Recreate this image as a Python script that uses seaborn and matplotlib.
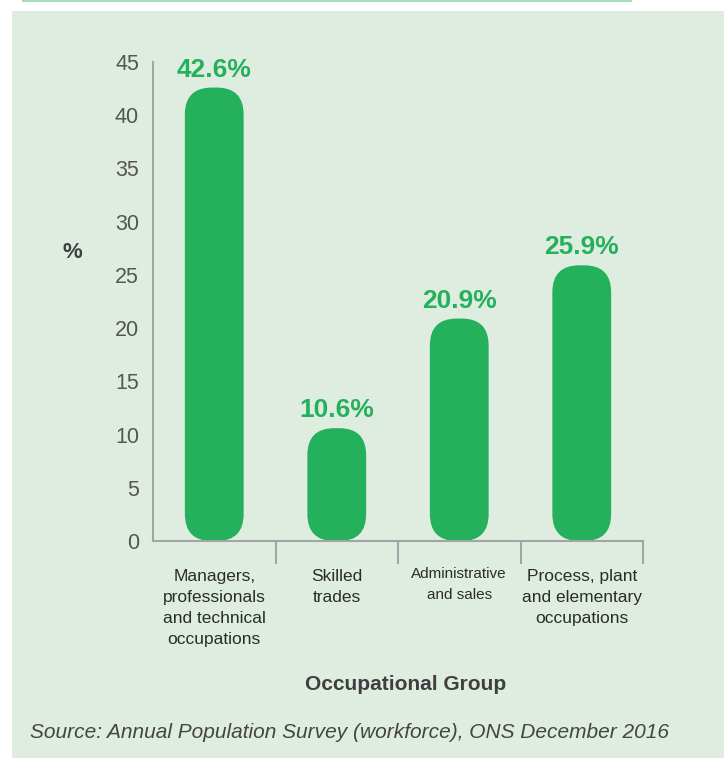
import matplotlib
matplotlib.use("Agg")
import matplotlib.pyplot as plt
import matplotlib.patches as mpatches
import seaborn as sns
import pandas as pd

# Data
categories = [
    "Managers,\nprofessionals\nand technical\noccupations",
    "Skilled\ntrades",
    "Administrative\nand sales",
    "Process, plant\nand elementary\noccupations",
]
shares = [42.6, 10.6, 20.9, 25.9]
value_labels = ["42.6%", "10.6%", "20.9%", "25.9%"]
yticks = [0, 5, 10, 15, 20, 25, 30, 35, 40, 45]

BAR = "#25b05b"
PANEL = "#dfede0"
AXIS = "#a2a5a8"
TEXT = "#3f3f3f"
FONT = "Liberation Sans"

sns.set_theme(style="white")
plt.rcParams["font.family"] = [FONT, "DejaVu Sans"]

W, H = 724, 758
fig = plt.figure(figsize=(W / 100, H / 100), dpi=100, facecolor="white")

# light green panel and thin rule above it
fig.patches.append(mpatches.Rectangle((12 / W, 0), 1 - 12 / W, 1 - 11 / H,
                                      transform=fig.transFigure, facecolor=PANEL,
                                      edgecolor="none", zorder=-10))
fig.patches.append(mpatches.Rectangle((22 / W, 1 - 2 / H), (632 - 22) / W, 2 / H,
                                      transform=fig.transFigure, facecolor="#a6ddb8",
                                      edgecolor="none", zorder=-10))

ax_l, ax_r, ax_t, ax_b = 153, 643, 62, 541
ax = fig.add_axes([ax_l / W, 1 - ax_b / H, (ax_r - ax_l) / W, (ax_b - ax_t) / H])
ax.set_zorder(1)
ax.set_facecolor("none")

df = pd.DataFrame({"group": categories, "share": shares})
sns.barplot(data=df, x="group", y="share", color=BAR, width=0.48,
            saturation=1, ax=ax, zorder=2)

ax.set_xlim(-0.5, 3.5)
ax.set_ylim(0, 45)

# swap the plain bars for rounded capsules of the same geometry
px_x = 4.0 / (ax_r - ax_l)
px_y = 45.0 / (ax_b - ax_t)
radius_px = 27
for p in list(ax.patches):
    x, y = p.get_x(), p.get_y()
    w, h = p.get_width(), p.get_height()
    p.remove()
    rb = mpatches.FancyBboxPatch(
        (x, y), w, h,
        boxstyle=f"round,pad=0,rounding_size={radius_px * px_x}",
        mutation_aspect=px_y / px_x,
        facecolor=BAR, edgecolor="none", zorder=2)
    ax.add_patch(rb)

# value labels above bars
for i, (v, lab) in enumerate(zip(shares, value_labels)):
    ax.annotate(lab, (i, v), xytext=(0, 11), textcoords="offset pixels",
                ha="center", va="baseline", fontsize=19, fontweight="bold",
                color=BAR)

# spines and ticks
for s in ["top", "right"]:
    ax.spines[s].set_visible(False)
for s in ["left", "bottom"]:
    ax.spines[s].set_color(AXIS)
    ax.spines[s].set_linewidth(1.5)

ax.set_yticks(yticks)
ax.set_yticklabels([str(t) for t in yticks])
ax.tick_params(axis="y", length=0, pad=10, labelsize=15.5, labelcolor="#555555")

ax.set_xticks([0.5, 1.5, 2.5, 3.5])
ax.set_xticklabels([])
ax.tick_params(axis="x", direction="out", length=16.5, width=1.5, color=AXIS,
               bottom=True)

# category labels under each bar
xt = ax.get_xaxis_transform()
for i, cat in enumerate(categories):
    small = cat.startswith("Administrative")
    ax.text(i, -0.055 if small else -0.059, cat, transform=xt, ha="center",
            va="top", fontsize=11 if small else 12.5, color="#2b2b2b",
            linespacing=1.62 if small else 1.5)

ax.set_xlabel("")
ax.set_ylabel("")

fig.text(72 / W, 1 - 252 / H, "%", ha="center", va="center", fontsize=16,
         color=TEXT, fontweight="bold")
fig.text(406 / W, 1 - 684 / H, "Occupational Group", ha="center", va="center",
         fontsize=15, fontweight="bold", color=TEXT)
fig.text(30 / W, 1 - 733 / H,
         "Source: Annual Population Survey (workforce), ONS December 2016",
         ha="left", va="center", fontsize=15, style="italic", color="#444444")

fig.savefig("out.png", dpi=100, facecolor="white")
